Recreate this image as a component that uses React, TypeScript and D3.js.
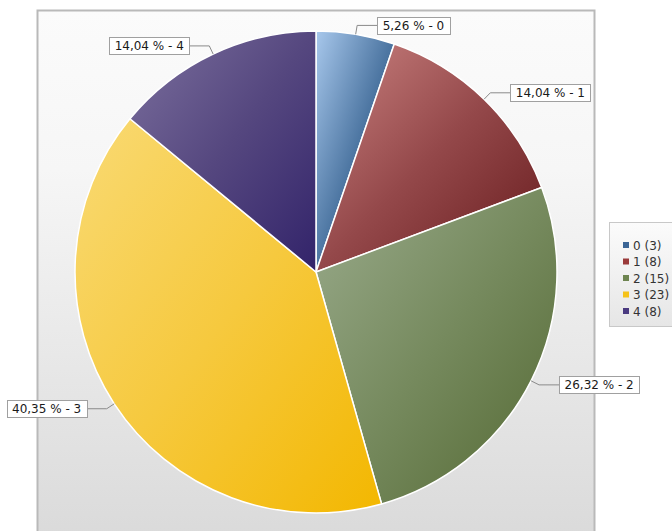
import React, { useEffect, useRef } from "react";
import * as d3 from "d3";

const categories = ["0", "1", "2", "3", "4"];
const counts = [3, 8, 15, 23, 8];
const lightColors = ["#a8c8ec", "#cc8482", "#9aab8c", "#f9da74", "#7c709e"];
const midColors = ["#4d76a2", "#94484a", "#768a5e", "#f6c93e", "#55477f"];
const darkColors = ["#24496f", "#661a1c", "#536832", "#f3b700", "#32236a"];
const legendColors = ["#3b6595", "#9a3a3a", "#6d8450", "#f5c21a", "#4a3a80"];

const W = 672;
const H = 531;
const CX = 316;
const CY = 272;
const R = 241;

export default function App() {
  const ref = useRef<SVGSVGElement>(null);

  useEffect(() => {
    const svg = d3.select(ref.current);
    svg.selectAll("*").remove();
    const defs = svg.append("defs");

    const bg = defs.append("linearGradient").attr("id", "bg").attr("x1", 0).attr("y1", 0).attr("x2", 0).attr("y2", 1);
    bg.append("stop").attr("offset", "0%").attr("stop-color", "#fbfbfb");
    bg.append("stop").attr("offset", "30%").attr("stop-color", "#f6f6f6");
    bg.append("stop").attr("offset", "100%").attr("stop-color", "#dadada");

    const lg = defs.append("linearGradient").attr("id", "lg").attr("x1", 0).attr("y1", 0).attr("x2", 0).attr("y2", 1);
    lg.append("stop").attr("offset", "0%").attr("stop-color", "#fbfbfb");
    lg.append("stop").attr("offset", "100%").attr("stop-color", "#e6e6e6");

    categories.forEach((c, i) => {
      const g = defs.append("linearGradient").attr("id", "sg" + i).attr("x1", 0).attr("y1", 0).attr("x2", 1).attr("y2", 1);
      g.append("stop").attr("offset", "0%").attr("stop-color", lightColors[i]);
      g.append("stop").attr("offset", "50%").attr("stop-color", midColors[i]);
      g.append("stop").attr("offset", "100%").attr("stop-color", darkColors[i]);
    });

    // panel
    svg.append("rect").attr("x", 37.5).attr("y", 10.5).attr("width", 557).attr("height", 530)
      .attr("fill", "url(#bg)").attr("stroke", "#b9b9b9").attr("stroke-width", 2);

    const total = d3.sum(counts);
    const pie = d3.pie<number>().sort(null).value((d) => d)(counts);
    const arc = d3.arc<d3.PieArcDatum<number>>().innerRadius(0).outerRadius(R);

    const g = svg.append("g").attr("transform", `translate(${CX},${CY})`);
    g.selectAll("path.slice").data(pie).enter().append("path")
      .attr("class", "slice")
      .attr("d", arc as any)
      .attr("fill", (_d, i) => `url(#sg${i})`)
      .attr("stroke", "#ffffff").attr("stroke-width", 1.5).attr("stroke-linejoin", "round");

    // labels
    const fmt = (v: number) => (v / total * 100).toFixed(2).replace(".", ",");
    pie.forEach((d, i) => {
      const mid = (d.startAngle + d.endAngle) / 2;
      const s = Math.sin(mid), c = -Math.cos(mid);
      const ex = CX + R * s, ey = CY + R * c;
      const bx = CX + (R + 9) * s, by = CY + (R + 9) * c;
      const right = s >= 0;
      const hx = bx + (right ? 20 : -20);
      svg.append("polyline")
        .attr("points", `${ex},${ey} ${bx},${by} ${hx},${by}`)
        .attr("fill", "none").attr("stroke", "#8a8a8a").attr("stroke-width", 1);
      const text = `${fmt(d.data)} % - ${categories[i]}`;
      const lab = svg.append("g");
      const rect = lab.append("rect");
      const t = lab.append("text").text(text)
        .attr("font-family", "DejaVu Sans, Verdana, sans-serif").attr("font-size", 12)
        .attr("fill", "#1a1a1a");
      const tw = (t.node() as SVGTextElement).getComputedTextLength();
      const bw = tw + 11;
      const bh = 17;
      const rx = right ? hx : hx - bw;
      rect.attr("x", Math.round(rx) + 0.5).attr("y", Math.round(by - bh / 2) + 0.5)
        .attr("width", Math.round(bw)).attr("height", bh)
        .attr("fill", "#ffffff").attr("stroke", "#a0a0a0").attr("stroke-width", 1);
      t.attr("x", rx + bw / 2).attr("y", by + 4.5).attr("text-anchor", "middle");
    });

    // legend
    svg.append("rect").attr("x", 609.5).attr("y", 222.5).attr("width", 70).attr("height", 104)
      .attr("fill", "url(#lg)").attr("stroke", "#c8c8c8").attr("stroke-width", 1);
    categories.forEach((c, i) => {
      const y = 245 + i * 16.5;
      svg.append("rect").attr("x", 623).attr("y", y - 3).attr("width", 6).attr("height", 6)
        .attr("fill", legendColors[i]);
      svg.append("text").attr("x", 633).attr("y", y + 4.5)
        .attr("font-family", "DejaVu Sans, Verdana, sans-serif").attr("font-size", 12)
        .attr("fill", "#333").text(`${c} (${counts[i]})`);
    });
  }, []);

  return (
    <svg ref={ref} width={W} height={H} style={{ position: "absolute", left: 0, top: 0, display: "block" }} />
  );
}
